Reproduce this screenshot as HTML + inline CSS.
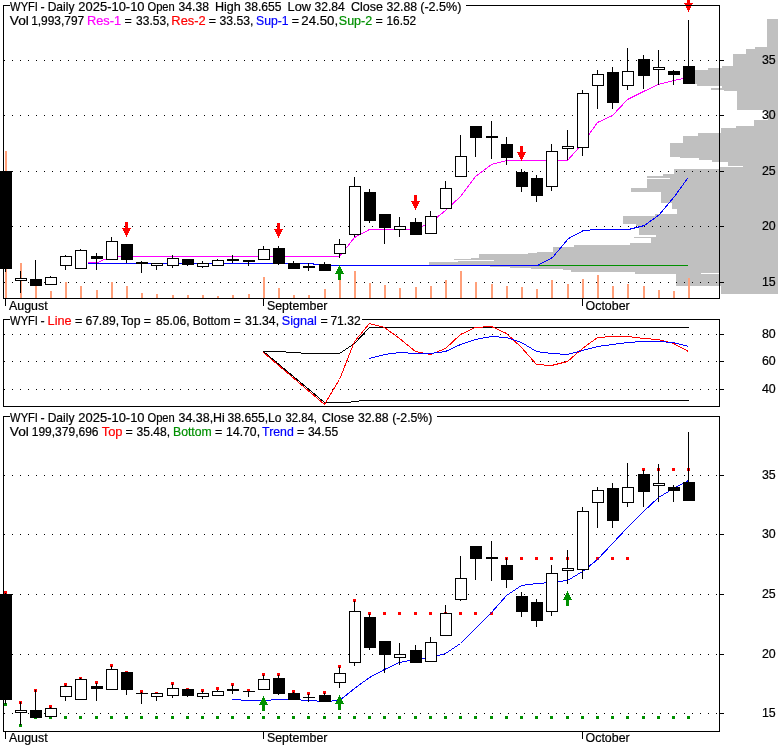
<!DOCTYPE html>
<html><head><meta charset="utf-8"><title>WYFI chart</title>
<style>
html,body{margin:0;padding:0;background:#fff}
svg{display:block}
text{font-family:"Liberation Sans",sans-serif;font-size:12.4px;fill:#000;stroke:#000;stroke-width:0.2px;white-space:pre}
</style></head><body>
<svg width="780" height="745" viewBox="0 0 780 745">
<rect width="780" height="745" fill="#fff"/>
<g shape-rendering="crispEdges">
<rect x="767" y="19" width="11" height="28" fill="#c0c0c0"/>
<rect x="755" y="47" width="23" height="2" fill="#c0c0c0"/>
<rect x="746" y="49" width="32" height="5" fill="#c0c0c0"/>
<rect x="733" y="54" width="45" height="12" fill="#c0c0c0"/>
<rect x="722" y="66" width="56" height="2" fill="#c0c0c0"/>
<rect x="708" y="68" width="70" height="2" fill="#c0c0c0"/>
<rect x="690" y="70" width="88" height="14" fill="#c0c0c0"/>
<rect x="697" y="84" width="81" height="2" fill="#c0c0c0"/>
<rect x="722" y="86" width="56" height="2" fill="#c0c0c0"/>
<rect x="711" y="88" width="67" height="2" fill="#c0c0c0"/>
<rect x="724" y="90" width="54" height="1" fill="#c0c0c0"/>
<rect x="737" y="91" width="41" height="19" fill="#c0c0c0"/>
<rect x="768" y="110" width="10" height="10" fill="#c0c0c0"/>
<rect x="754" y="120" width="24" height="6" fill="#c0c0c0"/>
<rect x="736" y="126" width="42" height="2" fill="#c0c0c0"/>
<rect x="721" y="128" width="57" height="5" fill="#c0c0c0"/>
<rect x="698" y="133" width="80" height="3" fill="#c0c0c0"/>
<rect x="683" y="136" width="95" height="7" fill="#c0c0c0"/>
<rect x="670" y="143" width="108" height="14" fill="#c0c0c0"/>
<rect x="680" y="157" width="98" height="1" fill="#c0c0c0"/>
<rect x="699" y="158" width="79" height="2" fill="#c0c0c0"/>
<rect x="712" y="160" width="66" height="2" fill="#c0c0c0"/>
<rect x="728" y="162" width="50" height="4" fill="#c0c0c0"/>
<rect x="743" y="166" width="35" height="1" fill="#c0c0c0"/>
<rect x="720" y="167" width="58" height="2" fill="#c0c0c0"/>
<rect x="674" y="169" width="104" height="5" fill="#c0c0c0"/>
<rect x="663" y="174" width="115" height="2" fill="#c0c0c0"/>
<rect x="647" y="176" width="131" height="2" fill="#c0c0c0"/>
<rect x="670" y="178" width="108" height="1" fill="#c0c0c0"/>
<rect x="647" y="179" width="131" height="9" fill="#c0c0c0"/>
<rect x="631" y="188" width="147" height="4" fill="#c0c0c0"/>
<rect x="661" y="192" width="117" height="11" fill="#c0c0c0"/>
<rect x="672" y="203" width="106" height="6" fill="#c0c0c0"/>
<rect x="677" y="209" width="101" height="5" fill="#c0c0c0"/>
<rect x="655" y="214" width="123" height="2" fill="#c0c0c0"/>
<rect x="623" y="216" width="155" height="8" fill="#c0c0c0"/>
<rect x="636" y="224" width="142" height="2" fill="#c0c0c0"/>
<rect x="639" y="226" width="139" height="9" fill="#c0c0c0"/>
<rect x="656" y="235" width="122" height="2" fill="#c0c0c0"/>
<rect x="634" y="237" width="144" height="1" fill="#c0c0c0"/>
<rect x="651" y="238" width="127" height="5" fill="#c0c0c0"/>
<rect x="630" y="243" width="148" height="2" fill="#c0c0c0"/>
<rect x="574" y="245" width="204" height="2" fill="#c0c0c0"/>
<rect x="553" y="247" width="225" height="5" fill="#c0c0c0"/>
<rect x="537" y="252" width="241" height="1" fill="#c0c0c0"/>
<rect x="528" y="253" width="250" height="1" fill="#c0c0c0"/>
<rect x="479" y="254" width="299" height="4" fill="#c0c0c0"/>
<rect x="471" y="258" width="307" height="1" fill="#c0c0c0"/>
<rect x="454" y="259" width="324" height="1" fill="#c0c0c0"/>
<rect x="494" y="260" width="284" height="1" fill="#c0c0c0"/>
<rect x="458" y="261" width="320" height="1" fill="#c0c0c0"/>
<rect x="429" y="262" width="349" height="3" fill="#c0c0c0"/>
<rect x="490" y="265" width="288" height="2" fill="#c0c0c0"/>
<rect x="510" y="267" width="268" height="1" fill="#c0c0c0"/>
<rect x="531" y="268" width="247" height="1" fill="#c0c0c0"/>
<rect x="563" y="269" width="215" height="1" fill="#c0c0c0"/>
<rect x="571" y="270" width="207" height="2" fill="#c0c0c0"/>
<rect x="635" y="272" width="143" height="1" fill="#c0c0c0"/>
<rect x="720" y="273" width="58" height="1" fill="#c0c0c0"/>
<rect x="676" y="274" width="102" height="12" fill="#c0c0c0"/>
<rect x="721" y="286" width="57" height="8" fill="#c0c0c0"/>
<rect x="635" y="273" width="66" height="1" fill="#c0c0c0"/>
<path d="M4 60h1M12 60h1M20 60h1M28 60h1M36 60h1M44 60h1M52 60h1M60 60h1M68 60h1M76 60h1M84 60h1M92 60h1M100 60h1M108 60h1M116 60h1M124 60h1M132 60h1M140 60h1M148 60h1M156 60h1M164 60h1M172 60h1M180 60h1M188 60h1M196 60h1M204 60h1M212 60h1M220 60h1M228 60h1M236 60h1M244 60h1M252 60h1M260 60h1M268 60h1M276 60h1M284 60h1M292 60h1M300 60h1M308 60h1M316 60h1M324 60h1M332 60h1M340 60h1M348 60h1M356 60h1M364 60h1M372 60h1M380 60h1M388 60h1M396 60h1M404 60h1M412 60h1M420 60h1M428 60h1M436 60h1M444 60h1M452 60h1M460 60h1M468 60h1M476 60h1M484 60h1M492 60h1M500 60h1M508 60h1M516 60h1M524 60h1M532 60h1M540 60h1M548 60h1M556 60h1M564 60h1M572 60h1M580 60h1M588 60h1M596 60h1M604 60h1M612 60h1M620 60h1M628 60h1M636 60h1M644 60h1M652 60h1M660 60h1M668 60h1M676 60h1M684 60h1M692 60h1M700 60h1M708 60h1M716 60h1" stroke="#000" stroke-width="1" transform="translate(0,0.5)"/>
<rect x="720" y="60" width="4" height="1" fill="#000"/>
<path d="M4 115h1M12 115h1M20 115h1M28 115h1M36 115h1M44 115h1M52 115h1M60 115h1M68 115h1M76 115h1M84 115h1M92 115h1M100 115h1M108 115h1M116 115h1M124 115h1M132 115h1M140 115h1M148 115h1M156 115h1M164 115h1M172 115h1M180 115h1M188 115h1M196 115h1M204 115h1M212 115h1M220 115h1M228 115h1M236 115h1M244 115h1M252 115h1M260 115h1M268 115h1M276 115h1M284 115h1M292 115h1M300 115h1M308 115h1M316 115h1M324 115h1M332 115h1M340 115h1M348 115h1M356 115h1M364 115h1M372 115h1M380 115h1M388 115h1M396 115h1M404 115h1M412 115h1M420 115h1M428 115h1M436 115h1M444 115h1M452 115h1M460 115h1M468 115h1M476 115h1M484 115h1M492 115h1M500 115h1M508 115h1M516 115h1M524 115h1M532 115h1M540 115h1M548 115h1M556 115h1M564 115h1M572 115h1M580 115h1M588 115h1M596 115h1M604 115h1M612 115h1M620 115h1M628 115h1M636 115h1M644 115h1M652 115h1M660 115h1M668 115h1M676 115h1M684 115h1M692 115h1M700 115h1M708 115h1M716 115h1" stroke="#000" stroke-width="1" transform="translate(0,0.5)"/>
<rect x="720" y="115" width="4" height="1" fill="#000"/>
<path d="M4 171h1M12 171h1M20 171h1M28 171h1M36 171h1M44 171h1M52 171h1M60 171h1M68 171h1M76 171h1M84 171h1M92 171h1M100 171h1M108 171h1M116 171h1M124 171h1M132 171h1M140 171h1M148 171h1M156 171h1M164 171h1M172 171h1M180 171h1M188 171h1M196 171h1M204 171h1M212 171h1M220 171h1M228 171h1M236 171h1M244 171h1M252 171h1M260 171h1M268 171h1M276 171h1M284 171h1M292 171h1M300 171h1M308 171h1M316 171h1M324 171h1M332 171h1M340 171h1M348 171h1M356 171h1M364 171h1M372 171h1M380 171h1M388 171h1M396 171h1M404 171h1M412 171h1M420 171h1M428 171h1M436 171h1M444 171h1M452 171h1M460 171h1M468 171h1M476 171h1M484 171h1M492 171h1M500 171h1M508 171h1M516 171h1M524 171h1M532 171h1M540 171h1M548 171h1M556 171h1M564 171h1M572 171h1M580 171h1M588 171h1M596 171h1M604 171h1M612 171h1M620 171h1M628 171h1M636 171h1M644 171h1M652 171h1M660 171h1M668 171h1M676 171h1M684 171h1M692 171h1M700 171h1M708 171h1M716 171h1" stroke="#000" stroke-width="1" transform="translate(0,0.5)"/>
<rect x="720" y="171" width="4" height="1" fill="#000"/>
<path d="M4 226h1M12 226h1M20 226h1M28 226h1M36 226h1M44 226h1M52 226h1M60 226h1M68 226h1M76 226h1M84 226h1M92 226h1M100 226h1M108 226h1M116 226h1M124 226h1M132 226h1M140 226h1M148 226h1M156 226h1M164 226h1M172 226h1M180 226h1M188 226h1M196 226h1M204 226h1M212 226h1M220 226h1M228 226h1M236 226h1M244 226h1M252 226h1M260 226h1M268 226h1M276 226h1M284 226h1M292 226h1M300 226h1M308 226h1M316 226h1M324 226h1M332 226h1M340 226h1M348 226h1M356 226h1M364 226h1M372 226h1M380 226h1M388 226h1M396 226h1M404 226h1M412 226h1M420 226h1M428 226h1M436 226h1M444 226h1M452 226h1M460 226h1M468 226h1M476 226h1M484 226h1M492 226h1M500 226h1M508 226h1M516 226h1M524 226h1M532 226h1M540 226h1M548 226h1M556 226h1M564 226h1M572 226h1M580 226h1M588 226h1M596 226h1M604 226h1M612 226h1M620 226h1M628 226h1M636 226h1M644 226h1M652 226h1M660 226h1M668 226h1M676 226h1M684 226h1M692 226h1M700 226h1M708 226h1M716 226h1" stroke="#000" stroke-width="1" transform="translate(0,0.5)"/>
<rect x="720" y="226" width="4" height="1" fill="#000"/>
<path d="M4 282h1M12 282h1M20 282h1M28 282h1M36 282h1M44 282h1M52 282h1M60 282h1M68 282h1M76 282h1M84 282h1M92 282h1M100 282h1M108 282h1M116 282h1M124 282h1M132 282h1M140 282h1M148 282h1M156 282h1M164 282h1M172 282h1M180 282h1M188 282h1M196 282h1M204 282h1M212 282h1M220 282h1M228 282h1M236 282h1M244 282h1M252 282h1M260 282h1M268 282h1M276 282h1M284 282h1M292 282h1M300 282h1M308 282h1M316 282h1M324 282h1M332 282h1M340 282h1M348 282h1M356 282h1M364 282h1M372 282h1M380 282h1M388 282h1M396 282h1M404 282h1M412 282h1M420 282h1M428 282h1M436 282h1M444 282h1M452 282h1M460 282h1M468 282h1M476 282h1M484 282h1M492 282h1M500 282h1M508 282h1M516 282h1M524 282h1M532 282h1M540 282h1M548 282h1M556 282h1M564 282h1M572 282h1M580 282h1M588 282h1M596 282h1M604 282h1M612 282h1M620 282h1M628 282h1M636 282h1M644 282h1M652 282h1M660 282h1M668 282h1M676 282h1M684 282h1M692 282h1M700 282h1M708 282h1M716 282h1" stroke="#000" stroke-width="1" transform="translate(0,0.5)"/>
<rect x="720" y="282" width="4" height="1" fill="#000"/>
<rect x="5" y="151" width="2" height="147" fill="#ffa07a"/>
<rect x="20" y="263" width="2" height="35" fill="#ffa07a"/>
<rect x="35" y="282" width="2" height="16" fill="#ffa07a"/>
<rect x="50" y="291" width="2" height="7" fill="#ffa07a"/>
<rect x="65" y="282" width="2" height="16" fill="#ffa07a"/>
<rect x="80" y="286" width="2" height="12" fill="#ffa07a"/>
<rect x="96" y="290" width="2" height="8" fill="#ffa07a"/>
<rect x="111" y="282" width="2" height="16" fill="#ffa07a"/>
<rect x="126" y="286" width="2" height="12" fill="#ffa07a"/>
<rect x="141" y="293" width="2" height="5" fill="#ffa07a"/>
<rect x="156" y="294" width="2" height="4" fill="#ffa07a"/>
<rect x="172" y="295" width="2" height="3" fill="#ffa07a"/>
<rect x="187" y="295" width="2" height="3" fill="#ffa07a"/>
<rect x="202" y="295" width="2" height="3" fill="#ffa07a"/>
<rect x="217" y="296" width="2" height="2" fill="#ffa07a"/>
<rect x="232" y="295" width="2" height="3" fill="#ffa07a"/>
<rect x="248" y="294" width="2" height="4" fill="#ffa07a"/>
<rect x="263" y="277" width="2" height="21" fill="#ffa07a"/>
<rect x="278" y="288" width="2" height="10" fill="#ffa07a"/>
<rect x="293" y="295" width="2" height="3" fill="#ffa07a"/>
<rect x="308" y="295" width="2" height="3" fill="#ffa07a"/>
<rect x="324" y="289" width="2" height="9" fill="#ffa07a"/>
<rect x="339" y="279" width="2" height="19" fill="#ffa07a"/>
<rect x="354" y="271" width="2" height="27" fill="#ffa07a"/>
<rect x="369" y="283" width="2" height="15" fill="#ffa07a"/>
<rect x="384" y="285" width="2" height="13" fill="#ffa07a"/>
<rect x="399" y="288" width="2" height="10" fill="#ffa07a"/>
<rect x="415" y="287" width="2" height="11" fill="#ffa07a"/>
<rect x="430" y="286" width="2" height="12" fill="#ffa07a"/>
<rect x="445" y="280" width="2" height="18" fill="#ffa07a"/>
<rect x="460" y="271" width="2" height="27" fill="#ffa07a"/>
<rect x="475" y="282" width="2" height="16" fill="#ffa07a"/>
<rect x="491" y="284" width="2" height="14" fill="#ffa07a"/>
<rect x="506" y="286" width="2" height="12" fill="#ffa07a"/>
<rect x="521" y="287" width="2" height="11" fill="#ffa07a"/>
<rect x="536" y="289" width="2" height="9" fill="#ffa07a"/>
<rect x="551" y="280" width="2" height="18" fill="#ffa07a"/>
<rect x="567" y="284" width="2" height="14" fill="#ffa07a"/>
<rect x="582" y="279" width="2" height="19" fill="#ffa07a"/>
<rect x="597" y="275" width="2" height="23" fill="#ffa07a"/>
<rect x="612" y="286" width="2" height="12" fill="#ffa07a"/>
<rect x="627" y="284" width="2" height="14" fill="#ffa07a"/>
<rect x="643" y="286" width="2" height="12" fill="#ffa07a"/>
<rect x="658" y="290" width="2" height="8" fill="#ffa07a"/>
<rect x="673" y="291" width="2" height="7" fill="#ffa07a"/>
<rect x="688" y="278" width="2" height="20" fill="#ffa07a"/>
<rect x="3" y="5" width="1" height="294" fill="#000"/>
<rect x="3" y="298" width="717" height="1" fill="#000"/>
<rect x="719" y="5" width="1" height="294" fill="#000"/>
<rect x="3" y="5" width="7" height="1" fill="#000"/>
<rect x="466" y="5" width="254" height="1" fill="#000"/>
<rect x="5" y="299" width="1" height="7" fill="#000"/>
<rect x="263" y="299" width="1" height="7" fill="#000"/>
<rect x="582" y="299" width="1" height="7" fill="#000"/>
<rect x="429" y="265" width="259" height="1" fill="#009000"/>
<polyline points="87.5,262.5 97.5,262.5 111.5,256.5 339.5,256.5 354.5,237.5 369.5,229.5 415.5,229.5 430.5,222.5 445.5,210.5 460.5,196.5 475.5,176.5 491.5,164.5 506.5,160.5 567.5,160.5 582.5,143.5 597.5,122.5 612.5,115.5 627.5,99.5 643.5,91.5 658.5,84.5 673.5,80.5 688.5,77.5" fill="none" stroke="#ff00ff" stroke-width="1"/>
<polyline points="87.5,263.5 313.5,263.5 313.5,264.5 330.5,264.5 331.5,265.5 537.5,265.5 552.5,257.5 568.5,238.5 583.5,230.5 597.5,229.5 628.5,229.5 644.5,225.5 659.5,214.5 674.5,196.5 687.5,178.5" fill="none" stroke="#0000ff" stroke-width="1"/>
<rect x="5" y="269" width="1" height="3" fill="#000"/>
<rect x="0" y="171" width="12" height="98" fill="#000"/>
<rect x="20" y="271" width="1" height="7" fill="#000"/>
<rect x="20" y="281" width="1" height="12" fill="#000"/>
<rect x="15" y="278" width="12" height="3" fill="#000"/>
<rect x="16" y="279" width="10" height="1" fill="#fff"/>
<rect x="35" y="260" width="1" height="19" fill="#000"/>
<rect x="30" y="279" width="12" height="7" fill="#000"/>
<rect x="50" y="276" width="1" height="1" fill="#000"/>
<rect x="45" y="277" width="12" height="8" fill="#000"/>
<rect x="46" y="278" width="10" height="6" fill="#fff"/>
<rect x="65" y="255" width="1" height="1" fill="#000"/>
<rect x="65" y="266" width="1" height="4" fill="#000"/>
<rect x="60" y="256" width="12" height="10" fill="#000"/>
<rect x="61" y="257" width="10" height="8" fill="#fff"/>
<rect x="80" y="249" width="1" height="1" fill="#000"/>
<rect x="75" y="250" width="12" height="19" fill="#000"/>
<rect x="76" y="251" width="10" height="17" fill="#fff"/>
<rect x="96" y="253" width="1" height="3" fill="#000"/>
<rect x="96" y="259" width="1" height="11" fill="#000"/>
<rect x="91" y="256" width="12" height="3" fill="#000"/>
<rect x="111" y="237" width="1" height="4" fill="#000"/>
<rect x="106" y="241" width="12" height="19" fill="#000"/>
<rect x="107" y="242" width="10" height="17" fill="#fff"/>
<rect x="126" y="260" width="1" height="3" fill="#000"/>
<rect x="121" y="244" width="12" height="16" fill="#000"/>
<rect x="141" y="261" width="1" height="1" fill="#000"/>
<rect x="141" y="264" width="1" height="9" fill="#000"/>
<rect x="136" y="262" width="12" height="2" fill="#000"/>
<rect x="156" y="266" width="1" height="4" fill="#000"/>
<rect x="151" y="263" width="12" height="3" fill="#000"/>
<rect x="152" y="264" width="10" height="1" fill="#fff"/>
<rect x="172" y="255" width="1" height="3" fill="#000"/>
<rect x="172" y="266" width="1" height="2" fill="#000"/>
<rect x="167" y="258" width="12" height="8" fill="#000"/>
<rect x="168" y="259" width="10" height="6" fill="#fff"/>
<rect x="187" y="265" width="1" height="1" fill="#000"/>
<rect x="182" y="259" width="12" height="6" fill="#000"/>
<rect x="202" y="261" width="1" height="2" fill="#000"/>
<rect x="202" y="267" width="1" height="1" fill="#000"/>
<rect x="197" y="263" width="12" height="4" fill="#000"/>
<rect x="198" y="264" width="10" height="2" fill="#fff"/>
<rect x="217" y="259" width="1" height="1" fill="#000"/>
<rect x="212" y="260" width="12" height="6" fill="#000"/>
<rect x="213" y="261" width="10" height="4" fill="#fff"/>
<rect x="232" y="255" width="1" height="4" fill="#000"/>
<rect x="232" y="261" width="1" height="2" fill="#000"/>
<rect x="227" y="259" width="12" height="2" fill="#000"/>
<rect x="248" y="262" width="1" height="4" fill="#000"/>
<rect x="243" y="260" width="12" height="2" fill="#000"/>
<rect x="263" y="246" width="1" height="3" fill="#000"/>
<rect x="258" y="249" width="12" height="11" fill="#000"/>
<rect x="259" y="250" width="10" height="9" fill="#fff"/>
<rect x="278" y="246" width="1" height="2" fill="#000"/>
<rect x="278" y="264" width="1" height="1" fill="#000"/>
<rect x="273" y="248" width="12" height="16" fill="#000"/>
<rect x="293" y="261" width="1" height="2" fill="#000"/>
<rect x="288" y="263" width="12" height="6" fill="#000"/>
<rect x="308" y="263" width="1" height="3" fill="#000"/>
<rect x="308" y="268" width="1" height="3" fill="#000"/>
<rect x="303" y="266" width="12" height="2" fill="#000"/>
<rect x="324" y="262" width="1" height="2" fill="#000"/>
<rect x="319" y="264" width="12" height="7" fill="#000"/>
<rect x="339" y="239" width="1" height="5" fill="#000"/>
<rect x="339" y="254" width="1" height="4" fill="#000"/>
<rect x="334" y="244" width="12" height="10" fill="#000"/>
<rect x="335" y="245" width="10" height="8" fill="#fff"/>
<rect x="354" y="177" width="1" height="9" fill="#000"/>
<rect x="354" y="235" width="1" height="2" fill="#000"/>
<rect x="349" y="186" width="12" height="49" fill="#000"/>
<rect x="350" y="187" width="10" height="47" fill="#fff"/>
<rect x="369" y="189" width="1" height="3" fill="#000"/>
<rect x="369" y="221" width="1" height="2" fill="#000"/>
<rect x="364" y="192" width="12" height="29" fill="#000"/>
<rect x="384" y="228" width="1" height="16" fill="#000"/>
<rect x="379" y="214" width="12" height="14" fill="#000"/>
<rect x="399" y="217" width="1" height="9" fill="#000"/>
<rect x="399" y="230" width="1" height="7" fill="#000"/>
<rect x="394" y="226" width="12" height="4" fill="#000"/>
<rect x="395" y="227" width="10" height="2" fill="#fff"/>
<rect x="415" y="218" width="1" height="4" fill="#000"/>
<rect x="410" y="222" width="12" height="13" fill="#000"/>
<rect x="430" y="211" width="1" height="5" fill="#000"/>
<rect x="425" y="216" width="12" height="18" fill="#000"/>
<rect x="426" y="217" width="10" height="16" fill="#fff"/>
<rect x="445" y="181" width="1" height="7" fill="#000"/>
<rect x="440" y="188" width="12" height="21" fill="#000"/>
<rect x="441" y="189" width="10" height="19" fill="#fff"/>
<rect x="460" y="135" width="1" height="21" fill="#000"/>
<rect x="455" y="156" width="12" height="21" fill="#000"/>
<rect x="456" y="157" width="10" height="19" fill="#fff"/>
<rect x="475" y="138" width="1" height="19" fill="#000"/>
<rect x="470" y="126" width="12" height="12" fill="#000"/>
<rect x="491" y="121" width="1" height="15" fill="#000"/>
<rect x="491" y="138" width="1" height="21" fill="#000"/>
<rect x="486" y="136" width="12" height="2" fill="#000"/>
<rect x="506" y="137" width="1" height="7" fill="#000"/>
<rect x="506" y="158" width="1" height="7" fill="#000"/>
<rect x="501" y="144" width="12" height="14" fill="#000"/>
<rect x="521" y="169" width="1" height="3" fill="#000"/>
<rect x="521" y="187" width="1" height="5" fill="#000"/>
<rect x="516" y="172" width="12" height="15" fill="#000"/>
<rect x="536" y="175" width="1" height="3" fill="#000"/>
<rect x="536" y="196" width="1" height="6" fill="#000"/>
<rect x="531" y="178" width="12" height="18" fill="#000"/>
<rect x="551" y="144" width="1" height="7" fill="#000"/>
<rect x="551" y="187" width="1" height="4" fill="#000"/>
<rect x="546" y="151" width="12" height="36" fill="#000"/>
<rect x="547" y="152" width="10" height="34" fill="#fff"/>
<rect x="567" y="130" width="1" height="16" fill="#000"/>
<rect x="567" y="149" width="1" height="11" fill="#000"/>
<rect x="562" y="146" width="12" height="3" fill="#000"/>
<rect x="563" y="147" width="10" height="1" fill="#fff"/>
<rect x="582" y="90" width="1" height="3" fill="#000"/>
<rect x="582" y="148" width="1" height="8" fill="#000"/>
<rect x="577" y="93" width="12" height="55" fill="#000"/>
<rect x="578" y="94" width="10" height="53" fill="#fff"/>
<rect x="597" y="70" width="1" height="4" fill="#000"/>
<rect x="597" y="86" width="1" height="23" fill="#000"/>
<rect x="592" y="74" width="12" height="12" fill="#000"/>
<rect x="593" y="75" width="10" height="10" fill="#fff"/>
<rect x="612" y="67" width="1" height="5" fill="#000"/>
<rect x="612" y="103" width="1" height="6" fill="#000"/>
<rect x="607" y="72" width="12" height="31" fill="#000"/>
<rect x="627" y="48" width="1" height="23" fill="#000"/>
<rect x="627" y="86" width="1" height="4" fill="#000"/>
<rect x="622" y="71" width="12" height="15" fill="#000"/>
<rect x="623" y="72" width="10" height="13" fill="#fff"/>
<rect x="643" y="55" width="1" height="4" fill="#000"/>
<rect x="643" y="76" width="1" height="13" fill="#000"/>
<rect x="638" y="59" width="12" height="17" fill="#000"/>
<rect x="658" y="50" width="1" height="17" fill="#000"/>
<rect x="658" y="70" width="1" height="15" fill="#000"/>
<rect x="653" y="67" width="12" height="3" fill="#000"/>
<rect x="654" y="68" width="10" height="1" fill="#fff"/>
<rect x="673" y="70" width="1" height="1" fill="#000"/>
<rect x="673" y="75" width="1" height="10" fill="#000"/>
<rect x="668" y="71" width="12" height="4" fill="#000"/>
<rect x="688" y="20" width="1" height="46" fill="#000"/>
<rect x="683" y="66" width="12" height="18" fill="#000"/>
<rect x="125" y="222" width="3" height="6" fill="#ff0000"/>
<rect x="122" y="228" width="9" height="1" fill="#ff0000"/>
<rect x="123" y="229" width="7" height="1" fill="#ff0000"/>
<rect x="123" y="230" width="7" height="1" fill="#ff0000"/>
<rect x="124" y="231" width="5" height="1" fill="#ff0000"/>
<rect x="124" y="232" width="5" height="1" fill="#ff0000"/>
<rect x="125" y="233" width="3" height="1" fill="#ff0000"/>
<rect x="125" y="234" width="3" height="1" fill="#ff0000"/>
<rect x="126" y="235" width="1" height="1" fill="#ff0000"/>
<rect x="126" y="236" width="1" height="1" fill="#ff0000"/>
<rect x="277" y="223" width="3" height="6" fill="#ff0000"/>
<rect x="274" y="229" width="9" height="1" fill="#ff0000"/>
<rect x="275" y="230" width="7" height="1" fill="#ff0000"/>
<rect x="275" y="231" width="7" height="1" fill="#ff0000"/>
<rect x="276" y="232" width="5" height="1" fill="#ff0000"/>
<rect x="276" y="233" width="5" height="1" fill="#ff0000"/>
<rect x="277" y="234" width="3" height="1" fill="#ff0000"/>
<rect x="277" y="235" width="3" height="1" fill="#ff0000"/>
<rect x="278" y="236" width="1" height="1" fill="#ff0000"/>
<rect x="278" y="237" width="1" height="1" fill="#ff0000"/>
<rect x="414" y="195" width="3" height="6" fill="#ff0000"/>
<rect x="411" y="201" width="9" height="1" fill="#ff0000"/>
<rect x="412" y="202" width="7" height="1" fill="#ff0000"/>
<rect x="412" y="203" width="7" height="1" fill="#ff0000"/>
<rect x="413" y="204" width="5" height="1" fill="#ff0000"/>
<rect x="413" y="205" width="5" height="1" fill="#ff0000"/>
<rect x="414" y="206" width="3" height="1" fill="#ff0000"/>
<rect x="414" y="207" width="3" height="1" fill="#ff0000"/>
<rect x="415" y="208" width="1" height="1" fill="#ff0000"/>
<rect x="415" y="209" width="1" height="1" fill="#ff0000"/>
<rect x="520" y="146" width="3" height="6" fill="#ff0000"/>
<rect x="517" y="152" width="9" height="1" fill="#ff0000"/>
<rect x="518" y="153" width="7" height="1" fill="#ff0000"/>
<rect x="518" y="154" width="7" height="1" fill="#ff0000"/>
<rect x="519" y="155" width="5" height="1" fill="#ff0000"/>
<rect x="519" y="156" width="5" height="1" fill="#ff0000"/>
<rect x="520" y="157" width="3" height="1" fill="#ff0000"/>
<rect x="520" y="158" width="3" height="1" fill="#ff0000"/>
<rect x="521" y="159" width="1" height="1" fill="#ff0000"/>
<rect x="521" y="160" width="1" height="1" fill="#ff0000"/>
<rect x="687" y="-3" width="3" height="6" fill="#ff0000"/>
<rect x="684" y="3" width="9" height="1" fill="#ff0000"/>
<rect x="685" y="4" width="7" height="1" fill="#ff0000"/>
<rect x="685" y="5" width="7" height="1" fill="#ff0000"/>
<rect x="686" y="6" width="5" height="1" fill="#ff0000"/>
<rect x="686" y="7" width="5" height="1" fill="#ff0000"/>
<rect x="687" y="8" width="3" height="1" fill="#ff0000"/>
<rect x="687" y="9" width="3" height="1" fill="#ff0000"/>
<rect x="688" y="10" width="1" height="1" fill="#ff0000"/>
<rect x="688" y="11" width="1" height="1" fill="#ff0000"/>
<rect x="339" y="265" width="1" height="1" fill="#009000"/>
<rect x="339" y="266" width="1" height="1" fill="#009000"/>
<rect x="338" y="267" width="3" height="1" fill="#009000"/>
<rect x="338" y="268" width="3" height="1" fill="#009000"/>
<rect x="337" y="269" width="5" height="1" fill="#009000"/>
<rect x="337" y="270" width="5" height="1" fill="#009000"/>
<rect x="336" y="271" width="7" height="1" fill="#009000"/>
<rect x="336" y="272" width="7" height="1" fill="#009000"/>
<rect x="335" y="273" width="9" height="1" fill="#009000"/>
<rect x="338" y="274" width="3" height="6" fill="#009000"/>
<rect x="466" y="5" width="254" height="1" fill="#000"/>
<path d="M4 334h1M12 334h1M20 334h1M28 334h1M36 334h1M44 334h1M52 334h1M60 334h1M68 334h1M76 334h1M84 334h1M92 334h1M100 334h1M108 334h1M116 334h1M124 334h1M132 334h1M140 334h1M148 334h1M156 334h1M164 334h1M172 334h1M180 334h1M188 334h1M196 334h1M204 334h1M212 334h1M220 334h1M228 334h1M236 334h1M244 334h1M252 334h1M260 334h1M268 334h1M276 334h1M284 334h1M292 334h1M300 334h1M308 334h1M316 334h1M324 334h1M332 334h1M340 334h1M348 334h1M356 334h1M364 334h1M372 334h1M380 334h1M388 334h1M396 334h1M404 334h1M412 334h1M420 334h1M428 334h1M436 334h1M444 334h1M452 334h1M460 334h1M468 334h1M476 334h1M484 334h1M492 334h1M500 334h1M508 334h1M516 334h1M524 334h1M532 334h1M540 334h1M548 334h1M556 334h1M564 334h1M572 334h1M580 334h1M588 334h1M596 334h1M604 334h1M612 334h1M620 334h1M628 334h1M636 334h1M644 334h1M652 334h1M660 334h1M668 334h1M676 334h1M684 334h1M692 334h1M700 334h1M708 334h1M716 334h1" stroke="#000" stroke-width="1" transform="translate(0,0.5)"/>
<rect x="720" y="334" width="4" height="1" fill="#000"/>
<path d="M4 361h1M12 361h1M20 361h1M28 361h1M36 361h1M44 361h1M52 361h1M60 361h1M68 361h1M76 361h1M84 361h1M92 361h1M100 361h1M108 361h1M116 361h1M124 361h1M132 361h1M140 361h1M148 361h1M156 361h1M164 361h1M172 361h1M180 361h1M188 361h1M196 361h1M204 361h1M212 361h1M220 361h1M228 361h1M236 361h1M244 361h1M252 361h1M260 361h1M268 361h1M276 361h1M284 361h1M292 361h1M300 361h1M308 361h1M316 361h1M324 361h1M332 361h1M340 361h1M348 361h1M356 361h1M364 361h1M372 361h1M380 361h1M388 361h1M396 361h1M404 361h1M412 361h1M420 361h1M428 361h1M436 361h1M444 361h1M452 361h1M460 361h1M468 361h1M476 361h1M484 361h1M492 361h1M500 361h1M508 361h1M516 361h1M524 361h1M532 361h1M540 361h1M548 361h1M556 361h1M564 361h1M572 361h1M580 361h1M588 361h1M596 361h1M604 361h1M612 361h1M620 361h1M628 361h1M636 361h1M644 361h1M652 361h1M660 361h1M668 361h1M676 361h1M684 361h1M692 361h1M700 361h1M708 361h1M716 361h1" stroke="#000" stroke-width="1" transform="translate(0,0.5)"/>
<rect x="720" y="361" width="4" height="1" fill="#000"/>
<path d="M4 389h1M12 389h1M20 389h1M28 389h1M36 389h1M44 389h1M52 389h1M60 389h1M68 389h1M76 389h1M84 389h1M92 389h1M100 389h1M108 389h1M116 389h1M124 389h1M132 389h1M140 389h1M148 389h1M156 389h1M164 389h1M172 389h1M180 389h1M188 389h1M196 389h1M204 389h1M212 389h1M220 389h1M228 389h1M236 389h1M244 389h1M252 389h1M260 389h1M268 389h1M276 389h1M284 389h1M292 389h1M300 389h1M308 389h1M316 389h1M324 389h1M332 389h1M340 389h1M348 389h1M356 389h1M364 389h1M372 389h1M380 389h1M388 389h1M396 389h1M404 389h1M412 389h1M420 389h1M428 389h1M436 389h1M444 389h1M452 389h1M460 389h1M468 389h1M476 389h1M484 389h1M492 389h1M500 389h1M508 389h1M516 389h1M524 389h1M532 389h1M540 389h1M548 389h1M556 389h1M564 389h1M572 389h1M580 389h1M588 389h1M596 389h1M604 389h1M612 389h1M620 389h1M628 389h1M636 389h1M644 389h1M652 389h1M660 389h1M668 389h1M676 389h1M684 389h1M692 389h1M700 389h1M708 389h1M716 389h1" stroke="#000" stroke-width="1" transform="translate(0,0.5)"/>
<rect x="720" y="389" width="4" height="1" fill="#000"/>
<rect x="3" y="319" width="1" height="88" fill="#000"/>
<rect x="3" y="406" width="717" height="1" fill="#000"/>
<rect x="719" y="319" width="1" height="88" fill="#000"/>
<rect x="3" y="319" width="7" height="1" fill="#000"/>
<rect x="362" y="319" width="358" height="1" fill="#000"/>
<polyline points="263.5,351.5 278.5,351.5 293.5,352.5 308.5,353.5 339.5,353.5 354.5,343.5 369.5,327.5 688.5,327.5" fill="none" stroke="#000" stroke-width="1"/>
<polyline points="263.5,351.5 324.5,402.5 347.5,402.5 362.5,400.5 688.5,400.5" fill="none" stroke="#000" stroke-width="1"/>
<polyline points="263.5,352.5 324.5,404.5 339.5,379.5 354.5,341.5 369.5,323.5 384.5,327.5 399.5,338.5 415.5,351.5 430.5,354.5 445.5,348.5 460.5,334.5 475.5,327.5 491.5,326.5 506.5,333.5 521.5,347.5 536.5,364.5 551.5,365.5 567.5,361.5 582.5,348.5 597.5,337.5 612.5,336.5 627.5,336.5 643.5,338.5 658.5,339.5 673.5,343.5 688.5,351.5" fill="none" stroke="#ff0000" stroke-width="1"/>
<polyline points="369.5,358.5 384.5,354.5 399.5,352.5 415.5,353.5 430.5,353.5 445.5,351.5 460.5,344.5 475.5,339.5 491.5,336.5 506.5,337.5 521.5,342.5 536.5,351.5 551.5,353.5 567.5,354.5 582.5,350.5 597.5,346.5 612.5,344.5 627.5,342.5 643.5,341.5 658.5,341.5 673.5,342.5 688.5,346.5" fill="none" stroke="#0000ff" stroke-width="1"/>
<path d="M4 475h1M12 475h1M20 475h1M28 475h1M36 475h1M44 475h1M52 475h1M60 475h1M68 475h1M76 475h1M84 475h1M92 475h1M100 475h1M108 475h1M116 475h1M124 475h1M132 475h1M140 475h1M148 475h1M156 475h1M164 475h1M172 475h1M180 475h1M188 475h1M196 475h1M204 475h1M212 475h1M220 475h1M228 475h1M236 475h1M244 475h1M252 475h1M260 475h1M268 475h1M276 475h1M284 475h1M292 475h1M300 475h1M308 475h1M316 475h1M324 475h1M332 475h1M340 475h1M348 475h1M356 475h1M364 475h1M372 475h1M380 475h1M388 475h1M396 475h1M404 475h1M412 475h1M420 475h1M428 475h1M436 475h1M444 475h1M452 475h1M460 475h1M468 475h1M476 475h1M484 475h1M492 475h1M500 475h1M508 475h1M516 475h1M524 475h1M532 475h1M540 475h1M548 475h1M556 475h1M564 475h1M572 475h1M580 475h1M588 475h1M596 475h1M604 475h1M612 475h1M620 475h1M628 475h1M636 475h1M644 475h1M652 475h1M660 475h1M668 475h1M676 475h1M684 475h1M692 475h1M700 475h1M708 475h1M716 475h1" stroke="#000" stroke-width="1" transform="translate(0,0.5)"/>
<rect x="720" y="475" width="4" height="1" fill="#000"/>
<path d="M4 534h1M12 534h1M20 534h1M28 534h1M36 534h1M44 534h1M52 534h1M60 534h1M68 534h1M76 534h1M84 534h1M92 534h1M100 534h1M108 534h1M116 534h1M124 534h1M132 534h1M140 534h1M148 534h1M156 534h1M164 534h1M172 534h1M180 534h1M188 534h1M196 534h1M204 534h1M212 534h1M220 534h1M228 534h1M236 534h1M244 534h1M252 534h1M260 534h1M268 534h1M276 534h1M284 534h1M292 534h1M300 534h1M308 534h1M316 534h1M324 534h1M332 534h1M340 534h1M348 534h1M356 534h1M364 534h1M372 534h1M380 534h1M388 534h1M396 534h1M404 534h1M412 534h1M420 534h1M428 534h1M436 534h1M444 534h1M452 534h1M460 534h1M468 534h1M476 534h1M484 534h1M492 534h1M500 534h1M508 534h1M516 534h1M524 534h1M532 534h1M540 534h1M548 534h1M556 534h1M564 534h1M572 534h1M580 534h1M588 534h1M596 534h1M604 534h1M612 534h1M620 534h1M628 534h1M636 534h1M644 534h1M652 534h1M660 534h1M668 534h1M676 534h1M684 534h1M692 534h1M700 534h1M708 534h1M716 534h1" stroke="#000" stroke-width="1" transform="translate(0,0.5)"/>
<rect x="720" y="534" width="4" height="1" fill="#000"/>
<path d="M4 594h1M12 594h1M20 594h1M28 594h1M36 594h1M44 594h1M52 594h1M60 594h1M68 594h1M76 594h1M84 594h1M92 594h1M100 594h1M108 594h1M116 594h1M124 594h1M132 594h1M140 594h1M148 594h1M156 594h1M164 594h1M172 594h1M180 594h1M188 594h1M196 594h1M204 594h1M212 594h1M220 594h1M228 594h1M236 594h1M244 594h1M252 594h1M260 594h1M268 594h1M276 594h1M284 594h1M292 594h1M300 594h1M308 594h1M316 594h1M324 594h1M332 594h1M340 594h1M348 594h1M356 594h1M364 594h1M372 594h1M380 594h1M388 594h1M396 594h1M404 594h1M412 594h1M420 594h1M428 594h1M436 594h1M444 594h1M452 594h1M460 594h1M468 594h1M476 594h1M484 594h1M492 594h1M500 594h1M508 594h1M516 594h1M524 594h1M532 594h1M540 594h1M548 594h1M556 594h1M564 594h1M572 594h1M580 594h1M588 594h1M596 594h1M604 594h1M612 594h1M620 594h1M628 594h1M636 594h1M644 594h1M652 594h1M660 594h1M668 594h1M676 594h1M684 594h1M692 594h1M700 594h1M708 594h1M716 594h1" stroke="#000" stroke-width="1" transform="translate(0,0.5)"/>
<rect x="720" y="594" width="4" height="1" fill="#000"/>
<path d="M4 654h1M12 654h1M20 654h1M28 654h1M36 654h1M44 654h1M52 654h1M60 654h1M68 654h1M76 654h1M84 654h1M92 654h1M100 654h1M108 654h1M116 654h1M124 654h1M132 654h1M140 654h1M148 654h1M156 654h1M164 654h1M172 654h1M180 654h1M188 654h1M196 654h1M204 654h1M212 654h1M220 654h1M228 654h1M236 654h1M244 654h1M252 654h1M260 654h1M268 654h1M276 654h1M284 654h1M292 654h1M300 654h1M308 654h1M316 654h1M324 654h1M332 654h1M340 654h1M348 654h1M356 654h1M364 654h1M372 654h1M380 654h1M388 654h1M396 654h1M404 654h1M412 654h1M420 654h1M428 654h1M436 654h1M444 654h1M452 654h1M460 654h1M468 654h1M476 654h1M484 654h1M492 654h1M500 654h1M508 654h1M516 654h1M524 654h1M532 654h1M540 654h1M548 654h1M556 654h1M564 654h1M572 654h1M580 654h1M588 654h1M596 654h1M604 654h1M612 654h1M620 654h1M628 654h1M636 654h1M644 654h1M652 654h1M660 654h1M668 654h1M676 654h1M684 654h1M692 654h1M700 654h1M708 654h1M716 654h1" stroke="#000" stroke-width="1" transform="translate(0,0.5)"/>
<rect x="720" y="654" width="4" height="1" fill="#000"/>
<path d="M4 713h1M12 713h1M20 713h1M28 713h1M36 713h1M44 713h1M52 713h1M60 713h1M68 713h1M76 713h1M84 713h1M92 713h1M100 713h1M108 713h1M116 713h1M124 713h1M132 713h1M140 713h1M148 713h1M156 713h1M164 713h1M172 713h1M180 713h1M188 713h1M196 713h1M204 713h1M212 713h1M220 713h1M228 713h1M236 713h1M244 713h1M252 713h1M260 713h1M268 713h1M276 713h1M284 713h1M292 713h1M300 713h1M308 713h1M316 713h1M324 713h1M332 713h1M340 713h1M348 713h1M356 713h1M364 713h1M372 713h1M380 713h1M388 713h1M396 713h1M404 713h1M412 713h1M420 713h1M428 713h1M436 713h1M444 713h1M452 713h1M460 713h1M468 713h1M476 713h1M484 713h1M492 713h1M500 713h1M508 713h1M516 713h1M524 713h1M532 713h1M540 713h1M548 713h1M556 713h1M564 713h1M572 713h1M580 713h1M588 713h1M596 713h1M604 713h1M612 713h1M620 713h1M628 713h1M636 713h1M644 713h1M652 713h1M660 713h1M668 713h1M676 713h1M684 713h1M692 713h1M700 713h1M708 713h1M716 713h1" stroke="#000" stroke-width="1" transform="translate(0,0.5)"/>
<rect x="720" y="713" width="4" height="1" fill="#000"/>
<rect x="3" y="416" width="1" height="316" fill="#000"/>
<rect x="3" y="731" width="717" height="1" fill="#000"/>
<rect x="719" y="416" width="1" height="316" fill="#000"/>
<rect x="3" y="416" width="7" height="1" fill="#000"/>
<rect x="437" y="416" width="283" height="1" fill="#000"/>
<rect x="5" y="732" width="1" height="7" fill="#000"/>
<rect x="263" y="732" width="1" height="7" fill="#000"/>
<rect x="582" y="732" width="1" height="7" fill="#000"/>
<rect x="4" y="591" width="3" height="3" fill="#ff0000"/>
<rect x="4" y="703" width="3" height="3" fill="#009000"/>
<rect x="19" y="701" width="3" height="3" fill="#ff0000"/>
<rect x="19" y="724" width="3" height="3" fill="#009000"/>
<rect x="34" y="689" width="3" height="3" fill="#ff0000"/>
<rect x="34" y="716" width="3" height="3" fill="#009000"/>
<rect x="49" y="705" width="3" height="3" fill="#ff0000"/>
<rect x="49" y="716" width="3" height="3" fill="#009000"/>
<rect x="64" y="683" width="3" height="3" fill="#ff0000"/>
<rect x="64" y="716" width="3" height="3" fill="#009000"/>
<rect x="79" y="677" width="3" height="3" fill="#ff0000"/>
<rect x="79" y="716" width="3" height="3" fill="#009000"/>
<rect x="95" y="681" width="3" height="3" fill="#ff0000"/>
<rect x="95" y="716" width="3" height="3" fill="#009000"/>
<rect x="110" y="664" width="3" height="3" fill="#ff0000"/>
<rect x="110" y="716" width="3" height="3" fill="#009000"/>
<rect x="125" y="671" width="3" height="3" fill="#ff0000"/>
<rect x="125" y="716" width="3" height="3" fill="#009000"/>
<rect x="140" y="690" width="3" height="3" fill="#ff0000"/>
<rect x="140" y="716" width="3" height="3" fill="#009000"/>
<rect x="155" y="692" width="3" height="3" fill="#ff0000"/>
<rect x="155" y="716" width="3" height="3" fill="#009000"/>
<rect x="171" y="682" width="3" height="3" fill="#ff0000"/>
<rect x="171" y="716" width="3" height="3" fill="#009000"/>
<rect x="186" y="688" width="3" height="3" fill="#ff0000"/>
<rect x="186" y="716" width="3" height="3" fill="#009000"/>
<rect x="201" y="689" width="3" height="3" fill="#ff0000"/>
<rect x="201" y="716" width="3" height="3" fill="#009000"/>
<rect x="216" y="687" width="3" height="3" fill="#ff0000"/>
<rect x="216" y="716" width="3" height="3" fill="#009000"/>
<rect x="231" y="683" width="3" height="3" fill="#ff0000"/>
<rect x="231" y="716" width="3" height="3" fill="#009000"/>
<rect x="247" y="689" width="3" height="3" fill="#ff0000"/>
<rect x="247" y="716" width="3" height="3" fill="#009000"/>
<rect x="262" y="673" width="3" height="3" fill="#ff0000"/>
<rect x="262" y="716" width="3" height="3" fill="#009000"/>
<rect x="277" y="673" width="3" height="3" fill="#ff0000"/>
<rect x="277" y="716" width="3" height="3" fill="#009000"/>
<rect x="292" y="690" width="3" height="3" fill="#ff0000"/>
<rect x="292" y="716" width="3" height="3" fill="#009000"/>
<rect x="307" y="692" width="3" height="3" fill="#ff0000"/>
<rect x="307" y="716" width="3" height="3" fill="#009000"/>
<rect x="323" y="691" width="3" height="3" fill="#ff0000"/>
<rect x="323" y="716" width="3" height="3" fill="#009000"/>
<rect x="338" y="665" width="3" height="3" fill="#ff0000"/>
<rect x="338" y="716" width="3" height="3" fill="#009000"/>
<rect x="353" y="599" width="3" height="3" fill="#ff0000"/>
<rect x="353" y="716" width="3" height="3" fill="#009000"/>
<rect x="368" y="612" width="3" height="3" fill="#ff0000"/>
<rect x="368" y="716" width="3" height="3" fill="#009000"/>
<rect x="383" y="612" width="3" height="3" fill="#ff0000"/>
<rect x="383" y="716" width="3" height="3" fill="#009000"/>
<rect x="398" y="612" width="3" height="3" fill="#ff0000"/>
<rect x="398" y="716" width="3" height="3" fill="#009000"/>
<rect x="414" y="612" width="3" height="3" fill="#ff0000"/>
<rect x="414" y="716" width="3" height="3" fill="#009000"/>
<rect x="429" y="612" width="3" height="3" fill="#ff0000"/>
<rect x="429" y="716" width="3" height="3" fill="#009000"/>
<rect x="444" y="612" width="3" height="3" fill="#ff0000"/>
<rect x="444" y="716" width="3" height="3" fill="#009000"/>
<rect x="459" y="612" width="3" height="3" fill="#ff0000"/>
<rect x="459" y="716" width="3" height="3" fill="#009000"/>
<rect x="474" y="612" width="3" height="3" fill="#ff0000"/>
<rect x="474" y="716" width="3" height="3" fill="#009000"/>
<rect x="490" y="612" width="3" height="3" fill="#ff0000"/>
<rect x="490" y="716" width="3" height="3" fill="#009000"/>
<rect x="505" y="557" width="3" height="3" fill="#ff0000"/>
<rect x="505" y="716" width="3" height="3" fill="#009000"/>
<rect x="520" y="557" width="3" height="3" fill="#ff0000"/>
<rect x="520" y="716" width="3" height="3" fill="#009000"/>
<rect x="535" y="557" width="3" height="3" fill="#ff0000"/>
<rect x="535" y="716" width="3" height="3" fill="#009000"/>
<rect x="550" y="557" width="3" height="3" fill="#ff0000"/>
<rect x="550" y="716" width="3" height="3" fill="#009000"/>
<rect x="566" y="557" width="3" height="3" fill="#ff0000"/>
<rect x="566" y="716" width="3" height="3" fill="#009000"/>
<rect x="581" y="557" width="3" height="3" fill="#ff0000"/>
<rect x="581" y="716" width="3" height="3" fill="#009000"/>
<rect x="596" y="557" width="3" height="3" fill="#ff0000"/>
<rect x="596" y="716" width="3" height="3" fill="#009000"/>
<rect x="611" y="557" width="3" height="3" fill="#ff0000"/>
<rect x="611" y="716" width="3" height="3" fill="#009000"/>
<rect x="626" y="557" width="3" height="3" fill="#ff0000"/>
<rect x="626" y="716" width="3" height="3" fill="#009000"/>
<rect x="642" y="468" width="3" height="3" fill="#ff0000"/>
<rect x="642" y="716" width="3" height="3" fill="#009000"/>
<rect x="657" y="468" width="3" height="3" fill="#ff0000"/>
<rect x="657" y="716" width="3" height="3" fill="#009000"/>
<rect x="672" y="468" width="3" height="3" fill="#ff0000"/>
<rect x="672" y="716" width="3" height="3" fill="#009000"/>
<rect x="687" y="468" width="3" height="3" fill="#ff0000"/>
<rect x="687" y="716" width="3" height="3" fill="#009000"/>
<polyline points="232.5,699.5 248.5,700.5 263.5,700.5 278.5,699.5 293.5,699.5 308.5,700.5 324.5,701.5 339.5,700.5 354.5,688.5 369.5,677.5 384.5,669.5 399.5,662.5 415.5,659.5 430.5,657.5 445.5,653.5 460.5,643.5 475.5,628.5 491.5,612.5 506.5,595.5 521.5,585.5 536.5,583.5 551.5,582.5 567.5,580.5 582.5,571.5 597.5,559.5 612.5,543.5 627.5,527.5 643.5,511.5 658.5,497.5 673.5,488.5 688.5,480.5" fill="none" stroke="#0000ff" stroke-width="1"/>
<rect x="5" y="593" width="1" height="1" fill="#000"/>
<rect x="5" y="700" width="1" height="4" fill="#000"/>
<rect x="0" y="594" width="12" height="106" fill="#000"/>
<rect x="20" y="702" width="1" height="8" fill="#000"/>
<rect x="20" y="713" width="1" height="12" fill="#000"/>
<rect x="15" y="710" width="12" height="3" fill="#000"/>
<rect x="16" y="711" width="10" height="1" fill="#fff"/>
<rect x="35" y="690" width="1" height="20" fill="#000"/>
<rect x="30" y="710" width="12" height="8" fill="#000"/>
<rect x="50" y="707" width="1" height="1" fill="#000"/>
<rect x="45" y="708" width="12" height="9" fill="#000"/>
<rect x="46" y="709" width="10" height="7" fill="#fff"/>
<rect x="65" y="685" width="1" height="1" fill="#000"/>
<rect x="65" y="697" width="1" height="4" fill="#000"/>
<rect x="60" y="686" width="12" height="11" fill="#000"/>
<rect x="61" y="687" width="10" height="9" fill="#fff"/>
<rect x="80" y="678" width="1" height="1" fill="#000"/>
<rect x="75" y="679" width="12" height="21" fill="#000"/>
<rect x="76" y="680" width="10" height="19" fill="#fff"/>
<rect x="96" y="683" width="1" height="3" fill="#000"/>
<rect x="96" y="689" width="1" height="12" fill="#000"/>
<rect x="91" y="686" width="12" height="3" fill="#000"/>
<rect x="111" y="666" width="1" height="3" fill="#000"/>
<rect x="106" y="669" width="12" height="21" fill="#000"/>
<rect x="107" y="670" width="10" height="19" fill="#fff"/>
<rect x="126" y="690" width="1" height="5" fill="#000"/>
<rect x="121" y="672" width="12" height="18" fill="#000"/>
<rect x="141" y="692" width="1" height="1" fill="#000"/>
<rect x="141" y="694" width="1" height="10" fill="#000"/>
<rect x="136" y="693" width="12" height="1" fill="#000"/>
<rect x="156" y="697" width="1" height="4" fill="#000"/>
<rect x="151" y="693" width="12" height="4" fill="#000"/>
<rect x="152" y="694" width="10" height="2" fill="#fff"/>
<rect x="172" y="684" width="1" height="4" fill="#000"/>
<rect x="172" y="696" width="1" height="2" fill="#000"/>
<rect x="167" y="688" width="12" height="8" fill="#000"/>
<rect x="168" y="689" width="10" height="6" fill="#fff"/>
<rect x="187" y="696" width="1" height="1" fill="#000"/>
<rect x="182" y="689" width="12" height="7" fill="#000"/>
<rect x="202" y="691" width="1" height="2" fill="#000"/>
<rect x="202" y="697" width="1" height="2" fill="#000"/>
<rect x="197" y="693" width="12" height="4" fill="#000"/>
<rect x="198" y="694" width="10" height="2" fill="#fff"/>
<rect x="217" y="690" width="1" height="1" fill="#000"/>
<rect x="212" y="691" width="12" height="5" fill="#000"/>
<rect x="213" y="692" width="10" height="3" fill="#fff"/>
<rect x="232" y="685" width="1" height="4" fill="#000"/>
<rect x="232" y="691" width="1" height="3" fill="#000"/>
<rect x="227" y="689" width="12" height="2" fill="#000"/>
<rect x="248" y="692" width="1" height="5" fill="#000"/>
<rect x="243" y="691" width="12" height="1" fill="#000"/>
<rect x="263" y="675" width="1" height="4" fill="#000"/>
<rect x="258" y="679" width="12" height="11" fill="#000"/>
<rect x="259" y="680" width="10" height="9" fill="#fff"/>
<rect x="278" y="675" width="1" height="3" fill="#000"/>
<rect x="278" y="694" width="1" height="1" fill="#000"/>
<rect x="273" y="678" width="12" height="16" fill="#000"/>
<rect x="293" y="692" width="1" height="1" fill="#000"/>
<rect x="288" y="693" width="12" height="7" fill="#000"/>
<rect x="308" y="694" width="1" height="3" fill="#000"/>
<rect x="308" y="698" width="1" height="4" fill="#000"/>
<rect x="303" y="697" width="12" height="1" fill="#000"/>
<rect x="324" y="693" width="1" height="2" fill="#000"/>
<rect x="319" y="695" width="12" height="7" fill="#000"/>
<rect x="339" y="667" width="1" height="6" fill="#000"/>
<rect x="339" y="683" width="1" height="5" fill="#000"/>
<rect x="334" y="673" width="12" height="10" fill="#000"/>
<rect x="335" y="674" width="10" height="8" fill="#fff"/>
<rect x="354" y="601" width="1" height="10" fill="#000"/>
<rect x="354" y="663" width="1" height="3" fill="#000"/>
<rect x="349" y="611" width="12" height="52" fill="#000"/>
<rect x="350" y="612" width="10" height="50" fill="#fff"/>
<rect x="369" y="614" width="1" height="3" fill="#000"/>
<rect x="369" y="648" width="1" height="2" fill="#000"/>
<rect x="364" y="617" width="12" height="31" fill="#000"/>
<rect x="384" y="655" width="1" height="18" fill="#000"/>
<rect x="379" y="641" width="12" height="14" fill="#000"/>
<rect x="399" y="643" width="1" height="11" fill="#000"/>
<rect x="399" y="658" width="1" height="7" fill="#000"/>
<rect x="394" y="654" width="12" height="4" fill="#000"/>
<rect x="395" y="655" width="10" height="2" fill="#fff"/>
<rect x="415" y="645" width="1" height="5" fill="#000"/>
<rect x="410" y="650" width="12" height="13" fill="#000"/>
<rect x="430" y="637" width="1" height="5" fill="#000"/>
<rect x="425" y="642" width="12" height="20" fill="#000"/>
<rect x="426" y="643" width="10" height="18" fill="#fff"/>
<rect x="445" y="605" width="1" height="8" fill="#000"/>
<rect x="440" y="613" width="12" height="23" fill="#000"/>
<rect x="441" y="614" width="10" height="21" fill="#fff"/>
<rect x="460" y="556" width="1" height="22" fill="#000"/>
<rect x="460" y="600" width="1" height="1" fill="#000"/>
<rect x="455" y="578" width="12" height="22" fill="#000"/>
<rect x="456" y="579" width="10" height="20" fill="#fff"/>
<rect x="475" y="559" width="1" height="21" fill="#000"/>
<rect x="470" y="546" width="12" height="13" fill="#000"/>
<rect x="491" y="541" width="1" height="16" fill="#000"/>
<rect x="491" y="559" width="1" height="22" fill="#000"/>
<rect x="486" y="557" width="12" height="2" fill="#000"/>
<rect x="506" y="558" width="1" height="7" fill="#000"/>
<rect x="506" y="580" width="1" height="8" fill="#000"/>
<rect x="501" y="565" width="12" height="15" fill="#000"/>
<rect x="521" y="592" width="1" height="4" fill="#000"/>
<rect x="521" y="612" width="1" height="5" fill="#000"/>
<rect x="516" y="596" width="12" height="16" fill="#000"/>
<rect x="536" y="599" width="1" height="3" fill="#000"/>
<rect x="536" y="621" width="1" height="6" fill="#000"/>
<rect x="531" y="602" width="12" height="19" fill="#000"/>
<rect x="551" y="565" width="1" height="8" fill="#000"/>
<rect x="551" y="612" width="1" height="4" fill="#000"/>
<rect x="546" y="573" width="12" height="39" fill="#000"/>
<rect x="547" y="574" width="10" height="37" fill="#fff"/>
<rect x="567" y="550" width="1" height="18" fill="#000"/>
<rect x="567" y="571" width="1" height="13" fill="#000"/>
<rect x="562" y="568" width="12" height="3" fill="#000"/>
<rect x="563" y="569" width="10" height="1" fill="#fff"/>
<rect x="582" y="507" width="1" height="4" fill="#000"/>
<rect x="582" y="570" width="1" height="9" fill="#000"/>
<rect x="577" y="511" width="12" height="59" fill="#000"/>
<rect x="578" y="512" width="10" height="57" fill="#fff"/>
<rect x="597" y="487" width="1" height="3" fill="#000"/>
<rect x="597" y="503" width="1" height="25" fill="#000"/>
<rect x="592" y="490" width="12" height="13" fill="#000"/>
<rect x="593" y="491" width="10" height="11" fill="#fff"/>
<rect x="612" y="483" width="1" height="5" fill="#000"/>
<rect x="612" y="521" width="1" height="7" fill="#000"/>
<rect x="607" y="488" width="12" height="33" fill="#000"/>
<rect x="627" y="463" width="1" height="24" fill="#000"/>
<rect x="627" y="503" width="1" height="4" fill="#000"/>
<rect x="622" y="487" width="12" height="16" fill="#000"/>
<rect x="623" y="488" width="10" height="14" fill="#fff"/>
<rect x="643" y="470" width="1" height="4" fill="#000"/>
<rect x="643" y="492" width="1" height="15" fill="#000"/>
<rect x="638" y="474" width="12" height="18" fill="#000"/>
<rect x="658" y="464" width="1" height="19" fill="#000"/>
<rect x="658" y="486" width="1" height="16" fill="#000"/>
<rect x="653" y="483" width="12" height="3" fill="#000"/>
<rect x="654" y="484" width="10" height="1" fill="#fff"/>
<rect x="673" y="485" width="1" height="2" fill="#000"/>
<rect x="673" y="491" width="1" height="11" fill="#000"/>
<rect x="668" y="487" width="12" height="4" fill="#000"/>
<rect x="688" y="432" width="1" height="50" fill="#000"/>
<rect x="683" y="482" width="12" height="19" fill="#000"/>
<rect x="263" y="696" width="1" height="1" fill="#009000"/>
<rect x="263" y="697" width="1" height="1" fill="#009000"/>
<rect x="262" y="698" width="3" height="1" fill="#009000"/>
<rect x="262" y="699" width="3" height="1" fill="#009000"/>
<rect x="261" y="700" width="5" height="1" fill="#009000"/>
<rect x="261" y="701" width="5" height="1" fill="#009000"/>
<rect x="260" y="702" width="7" height="1" fill="#009000"/>
<rect x="260" y="703" width="7" height="1" fill="#009000"/>
<rect x="259" y="704" width="9" height="1" fill="#009000"/>
<rect x="262" y="705" width="3" height="6" fill="#009000"/>
<rect x="339" y="695" width="1" height="1" fill="#009000"/>
<rect x="339" y="696" width="1" height="1" fill="#009000"/>
<rect x="338" y="697" width="3" height="1" fill="#009000"/>
<rect x="338" y="698" width="3" height="1" fill="#009000"/>
<rect x="337" y="699" width="5" height="1" fill="#009000"/>
<rect x="337" y="700" width="5" height="1" fill="#009000"/>
<rect x="336" y="701" width="7" height="1" fill="#009000"/>
<rect x="336" y="702" width="7" height="1" fill="#009000"/>
<rect x="335" y="703" width="9" height="1" fill="#009000"/>
<rect x="338" y="704" width="3" height="6" fill="#009000"/>
<rect x="567" y="591" width="1" height="1" fill="#009000"/>
<rect x="567" y="592" width="1" height="1" fill="#009000"/>
<rect x="566" y="593" width="3" height="1" fill="#009000"/>
<rect x="566" y="594" width="3" height="1" fill="#009000"/>
<rect x="565" y="595" width="5" height="1" fill="#009000"/>
<rect x="565" y="596" width="5" height="1" fill="#009000"/>
<rect x="564" y="597" width="7" height="1" fill="#009000"/>
<rect x="564" y="598" width="7" height="1" fill="#009000"/>
<rect x="563" y="599" width="9" height="1" fill="#009000"/>
<rect x="566" y="600" width="3" height="6" fill="#009000"/>
</g>
<g>
<text y="11"><tspan x="10.11" textLength="27.87" lengthAdjust="spacingAndGlyphs">WYFI</tspan> <tspan x="40.4">-</tspan> <tspan x="47.63" textLength="26.83" lengthAdjust="spacingAndGlyphs">Daily</tspan> <tspan x="78.37" textLength="66.18" lengthAdjust="spacingAndGlyphs">2025-10-10</tspan> <tspan x="147.46" textLength="27.29" lengthAdjust="spacingAndGlyphs">Open</tspan> <tspan x="178.51" textLength="30.41" lengthAdjust="spacingAndGlyphs">34.38</tspan> <tspan x="214.99" textLength="25.83" lengthAdjust="spacingAndGlyphs">High</tspan> <tspan x="244.51" textLength="37.0" lengthAdjust="spacingAndGlyphs">38.655</tspan> <tspan x="287.57" textLength="23.37" lengthAdjust="spacingAndGlyphs">Low</tspan> <tspan x="314.51" textLength="30.21" lengthAdjust="spacingAndGlyphs">32.84</tspan> <tspan x="350.99" textLength="32.01" lengthAdjust="spacingAndGlyphs">Close</tspan> <tspan x="386.51" textLength="30.62" lengthAdjust="spacingAndGlyphs">32.88</tspan> <tspan x="420.19" textLength="41.33" lengthAdjust="spacingAndGlyphs">(-2.5%)</tspan></text>
<text y="25"><tspan x="9.89" textLength="19.04" lengthAdjust="spacingAndGlyphs">Vol</tspan> <tspan x="31.13" textLength="53.11" lengthAdjust="spacingAndGlyphs">1,993,797</tspan> <tspan x="86.97" fill="#ff00ff" stroke="#ff00ff" textLength="34.23" lengthAdjust="spacingAndGlyphs">Res-1</tspan> <tspan x="124.4">=</tspan> <tspan x="136.12" textLength="33.32" lengthAdjust="spacingAndGlyphs">33.53,</tspan> <tspan x="171.36" fill="#ff0000" stroke="#ff0000" textLength="34.34" lengthAdjust="spacingAndGlyphs">Res-2</tspan> <tspan x="208.8">=</tspan> <tspan x="219.51" textLength="33.95" lengthAdjust="spacingAndGlyphs">33.53,</tspan> <tspan x="256.01" fill="#0000ff" stroke="#0000ff" textLength="32.57" lengthAdjust="spacingAndGlyphs">Sup-1</tspan> <tspan x="291.8">=</tspan> <tspan x="301.36" textLength="36.79" lengthAdjust="spacingAndGlyphs">24.50,</tspan> <tspan x="338.79" fill="#009000" stroke="#009000" textLength="33.4" lengthAdjust="spacingAndGlyphs">Sup-2</tspan> <tspan x="375.4">=</tspan> <tspan x="386.54" textLength="29.66" lengthAdjust="spacingAndGlyphs">16.52</tspan></text>
<text y="325"><tspan x="10.11" textLength="27.87" lengthAdjust="spacingAndGlyphs">WYFI</tspan> <tspan x="40.4">-</tspan> <tspan x="47.58" fill="#ff0000" stroke="#ff0000" textLength="23.98" lengthAdjust="spacingAndGlyphs">Line</tspan> <tspan x="75.0">=</tspan> <tspan x="85.41" textLength="33.64" lengthAdjust="spacingAndGlyphs">67.89,</tspan> <tspan x="120.7" textLength="19.79" lengthAdjust="spacingAndGlyphs">Top</tspan> <tspan x="143.8">=</tspan> <tspan x="156.11" textLength="33.53" lengthAdjust="spacingAndGlyphs">85.06,</tspan> <tspan x="192.64" textLength="37.71" lengthAdjust="spacingAndGlyphs">Bottom</tspan> <tspan x="233.4">=</tspan> <tspan x="245.11" textLength="33.95" lengthAdjust="spacingAndGlyphs">31.34,</tspan> <tspan x="281.79" fill="#0000ff" stroke="#0000ff" textLength="35.1" lengthAdjust="spacingAndGlyphs">Signal</tspan> <tspan x="320.4">=</tspan> <tspan x="330.42" textLength="30.2" lengthAdjust="spacingAndGlyphs">71.32</tspan></text>
<text y="422"><tspan x="10.11" textLength="27.87" lengthAdjust="spacingAndGlyphs">WYFI</tspan> <tspan x="40.4">-</tspan> <tspan x="47.63" textLength="26.83" lengthAdjust="spacingAndGlyphs">Daily</tspan> <tspan x="78.37" textLength="66.18" lengthAdjust="spacingAndGlyphs">2025-10-10</tspan> <tspan x="147.46" textLength="27.29" lengthAdjust="spacingAndGlyphs">Open</tspan> <tspan x="178.5" textLength="46.39" lengthAdjust="spacingAndGlyphs">34.38,Hi</tspan> <tspan x="227.51" textLength="54.04" lengthAdjust="spacingAndGlyphs">38.655,Lo</tspan> <tspan x="285.54" textLength="31.44" lengthAdjust="spacingAndGlyphs">32.84,</tspan> <tspan x="321.79" textLength="32.43" lengthAdjust="spacingAndGlyphs">Close</tspan> <tspan x="357.91" textLength="30.62" lengthAdjust="spacingAndGlyphs">32.88</tspan> <tspan x="392.21" textLength="40.13" lengthAdjust="spacingAndGlyphs">(-2.5%)</tspan></text>
<text y="436"><tspan x="9.89" textLength="19.04" lengthAdjust="spacingAndGlyphs">Vol</tspan> <tspan x="31.73" textLength="66.81" lengthAdjust="spacingAndGlyphs">199,379,696</tspan> <tspan x="101.69" fill="#ff0000" stroke="#ff0000" textLength="20.83" lengthAdjust="spacingAndGlyphs">Top</tspan> <tspan x="125.4">=</tspan> <tspan x="136.51" textLength="33.53" lengthAdjust="spacingAndGlyphs">35.48,</tspan> <tspan x="173.01" fill="#009000" stroke="#009000" textLength="38.76" lengthAdjust="spacingAndGlyphs">Bottom</tspan> <tspan x="215.0">=</tspan> <tspan x="226.11" textLength="33.95" lengthAdjust="spacingAndGlyphs">14.70,</tspan> <tspan x="262.1" fill="#0000ff" stroke="#0000ff" textLength="31.73" lengthAdjust="spacingAndGlyphs">Trend</tspan> <tspan x="297.0">=</tspan> <tspan x="307.91" textLength="30.2" lengthAdjust="spacingAndGlyphs">34.55</tspan></text>
<text y="309.6"><tspan x="9">August</tspan> <tspan x="266.9">September</tspan> <tspan x="585.6">October</tspan></text>
<text y="742.4"><tspan x="9">August</tspan> <tspan x="266.9">September</tspan> <tspan x="585.6">October</tspan></text>
<text x="775.7" y="63.9" text-anchor="end">35</text>
<text x="775.7" y="118.9" text-anchor="end">30</text>
<text x="775.7" y="174.9" text-anchor="end">25</text>
<text x="775.7" y="229.9" text-anchor="end">20</text>
<text x="775.7" y="285.9" text-anchor="end">15</text>
<text x="775.7" y="337.9" text-anchor="end">80</text>
<text x="775.7" y="364.9" text-anchor="end">60</text>
<text x="775.7" y="392.9" text-anchor="end">40</text>
<text x="775.7" y="478.9" text-anchor="end">35</text>
<text x="775.7" y="537.9" text-anchor="end">30</text>
<text x="775.7" y="597.9" text-anchor="end">25</text>
<text x="775.7" y="657.9" text-anchor="end">20</text>
<text x="775.7" y="716.9" text-anchor="end">15</text>
</g>
</svg>
</body></html>
